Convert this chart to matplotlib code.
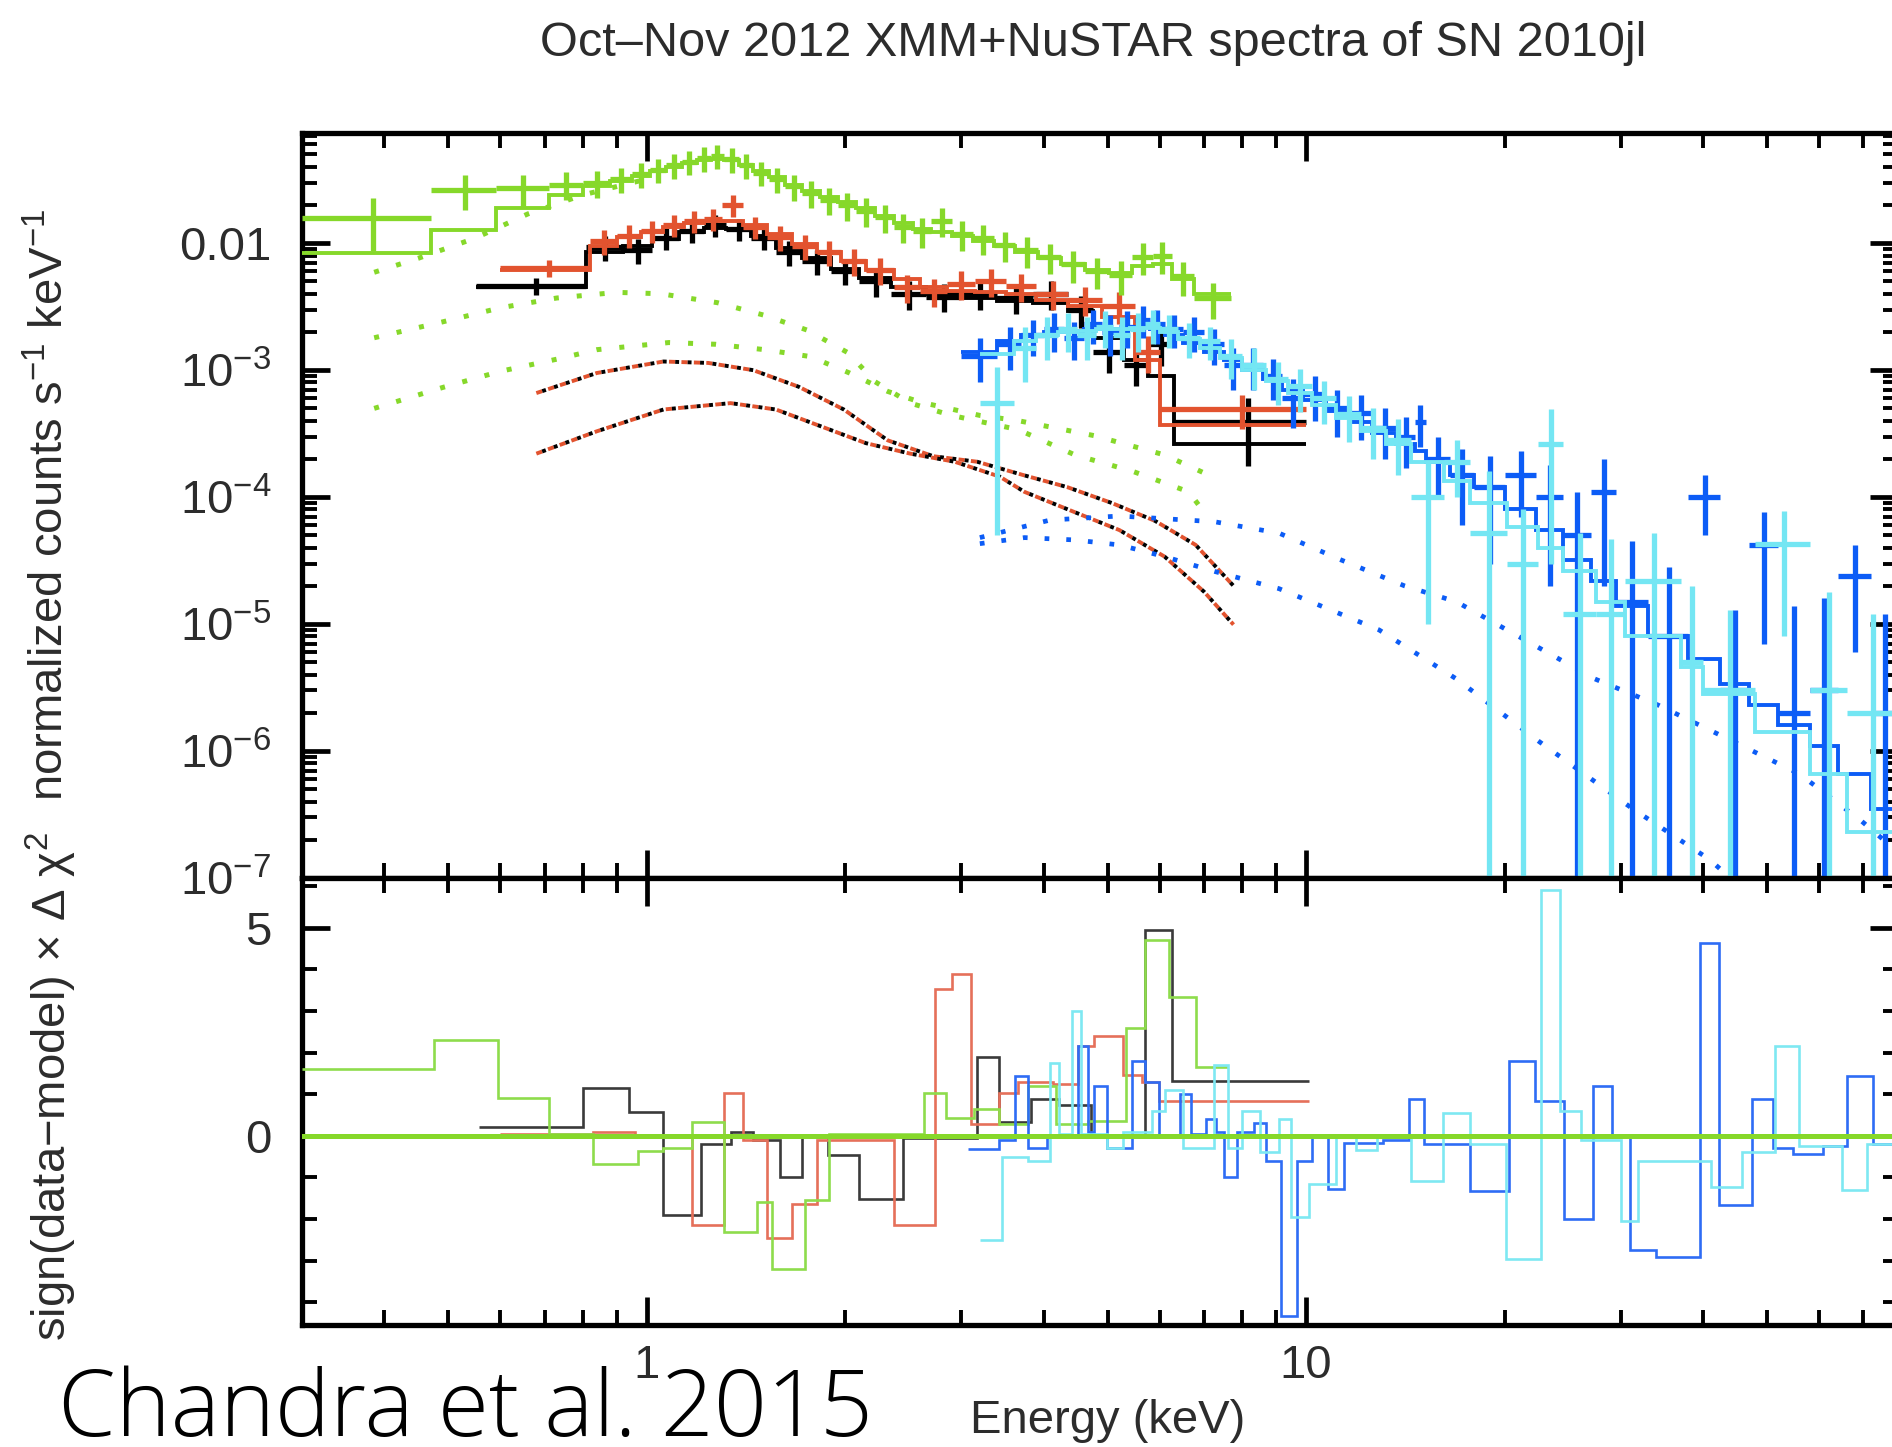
import numpy as np
import matplotlib
matplotlib.use("Agg")
import matplotlib.pyplot as plt
from matplotlib import font_manager as fm
from matplotlib.ticker import FixedLocator, FuncFormatter, MultipleLocator, NullFormatter

# ---------------------------------------------------------------- spectra
# XMM EPIC-pn (green): bin edges [keV], rate, fractional error, folded model
pn_edges = [0.30, 0.47, 0.59, 0.71, 0.80, 0.88, 0.95, 1.01, 1.07, 1.13, 1.19, 1.25,
            1.31, 1.38, 1.45, 1.53, 1.62, 1.72, 1.83, 1.95, 2.08, 2.22, 2.37, 2.53,
            2.70, 2.90, 3.12, 3.36, 3.62, 3.92, 4.25, 4.62, 5.02, 5.45, 5.85, 6.25,
            6.75, 7.70]
pn_rate = [0.0157, 0.0263, 0.027, 0.029, 0.030, 0.032, 0.035, 0.038, 0.041, 0.044,
           0.047, 0.049, 0.046, 0.041, 0.036, 0.032, 0.028, 0.025, 0.022, 0.020,
           0.018, 0.016, 0.0135, 0.0125, 0.0150, 0.0118, 0.0110, 0.0097, 0.0088,
           0.0078, 0.0068, 0.0060, 0.0056, 0.0078, 0.0080, 0.0055, 0.0037]
pn_frac_err = [0.45, 0.30, 0.28, 0.25, 0.24, 0.22, 0.22, 0.22, 0.22, 0.22, 0.22, 0.22,
               0.22, 0.22, 0.22, 0.23, 0.23, 0.24, 0.24, 0.25, 0.25, 0.25, 0.26, 0.26,
               0.26, 0.26, 0.26, 0.27, 0.27, 0.27, 0.28, 0.28, 0.30, 0.28, 0.28, 0.30,
               0.32]
pn_model = [0.0084, 0.0127, 0.019, 0.024, 0.028, 0.031, 0.034, 0.037, 0.040, 0.043,
            0.045, 0.046, 0.045, 0.041, 0.037, 0.033, 0.029, 0.026, 0.023, 0.021,
            0.019, 0.0165, 0.0145, 0.0130, 0.0122, 0.0113, 0.0104, 0.0095, 0.0086,
            0.0077, 0.0068, 0.0061, 0.0058, 0.0066, 0.0068, 0.0052, 0.0040]

# XMM MOS1 (black)
m1_edges = [0.55, 0.81, 0.92, 1.02, 1.12, 1.22, 1.32, 1.44, 1.57, 1.72, 1.90, 2.10,
            2.35, 2.65, 3.00, 3.40, 3.85, 4.35, 4.75, 5.30, 5.75, 6.30, 10.0]
m1_rate = [0.0046, 0.0093, 0.0088, 0.0110, 0.0125, 0.0140, 0.0130, 0.0110, 0.0085,
           0.0072, 0.0060, 0.0050, 0.0040, 0.0038, 0.0040, 0.0037, 0.0040, 0.0030,
           0.0014, 0.0011, 0.0016, 0.00039]
m1_frac_err = [0.15, 0.22, 0.22, 0.2, 0.2, 0.2, 0.2, 0.2, 0.22, 0.22, 0.22, 0.24, 0.25,
               0.25, 0.25, 0.25, 0.25, 0.28, 0.32, 0.32, 0.32, 0.55]
m1_model = [0.0045, 0.0085, 0.0095, 0.0108, 0.0122, 0.0132, 0.0130, 0.0113, 0.0092,
            0.0076, 0.0063, 0.0053, 0.0045, 0.0040, 0.0037, 0.0035, 0.0034, 0.0029,
            0.0018, 0.0012, 0.0009, 0.00026]

# XMM MOS2 (red)
m2_edges = [0.60, 0.82, 0.90, 0.98, 1.06, 1.14, 1.22, 1.30, 1.40, 1.52, 1.66, 1.81,
            1.97, 2.15, 2.37, 2.60, 2.85, 3.15, 3.50, 3.90, 4.35, 4.90, 5.50, 6.00, 10.0]
m2_rate = [0.0064, 0.0104, 0.0115, 0.0125, 0.0140, 0.0150, 0.0155, 0.0200, 0.0135,
           0.0112, 0.0095, 0.0085, 0.0072, 0.0062, 0.0045, 0.0042, 0.0048, 0.0050,
           0.0046, 0.0040, 0.0036, 0.0032, 0.0014, 0.00049]
m2_frac_err = [0.15, 0.22, 0.2, 0.2, 0.2, 0.2, 0.2, 0.2, 0.2, 0.22, 0.22, 0.22, 0.24,
               0.24, 0.25, 0.25, 0.25, 0.25, 0.25, 0.26, 0.26, 0.28, 0.32, 0.3]
m2_model = [0.0062, 0.0095, 0.0112, 0.0122, 0.0135, 0.0145, 0.0150, 0.0150, 0.0138,
            0.0118, 0.0098, 0.0085, 0.0073, 0.0062, 0.0052, 0.0045, 0.0042, 0.0041,
            0.0040, 0.0036, 0.0032, 0.0026, 0.0012, 0.00037]

# NuSTAR FPMA (blue): rate and 1-sigma error
fpma_edges = [3.0, 3.4, 3.7, 4.0, 4.3, 4.6, 4.9, 5.2, 5.5, 5.8, 6.1, 6.5, 7.0, 7.5,
              8.0, 8.6, 9.2, 9.9, 10.7, 11.6, 12.6, 13.7, 14.6, 15.2, 16.5, 18.0,
              20.0, 22.3, 24.5, 27.0, 29.5, 33.0, 38.0, 42.5, 47.0, 52.0, 58.0, 64.0,
              72.0, 79.0]
fpma_rate = [1.3e-3, 1.6e-3, 1.9e-3, 2.1e-3, 1.8e-3, 2.3e-3, 2.0e-3, 2.2e-3, 2.5e-3,
             2.3e-3, 2.1e-3, 2.0e-3, 1.6e-3, 1.1e-3, 1.1e-3, 9.0e-4, 6.0e-4, 6.5e-4,
             5.0e-4, 4.6e-4, 3.5e-4, 3.0e-4, 3.9e-4, 2.0e-4, 1.5e-4, 1.2e-4, 1.5e-4,
             1.0e-4, 5.0e-5, 1.1e-4, 1.5e-5, 8.0e-6, 1.0e-4, 3.0e-6, 4.2e-5, 2.0e-6,
             3.0e-6, 2.4e-5, 2.0e-6]
fpma_err = [5e-4, 6e-4, 6e-4, 7e-4, 6e-4, 7e-4, 7e-4, 7e-4, 7e-4, 7e-4, 6e-4, 6e-4,
            5e-4, 4e-4, 4e-4, 3.2e-4, 2.5e-4, 2.5e-4, 2e-4, 1.8e-4, 1.5e-4, 1.3e-4,
            1.4e-4, 1e-4, 9e-5, 9e-5, 8e-5, 8e-5, 6e-5, 9e-5, 3e-5, 2e-5, 5e-5, 1e-5,
            3.5e-5, 1.2e-5, 1.3e-5, 1.8e-5, 1e-5]
fpma_model = [1.4e-3, 1.7e-3, 1.9e-3, 2.0e-3, 2.05e-3, 2.1e-3, 2.1e-3, 2.1e-3, 2.2e-3,
              2.1e-3, 1.9e-3, 1.65e-3, 1.4e-3, 1.2e-3, 1.0e-3, 8.5e-4, 7.0e-4, 5.8e-4,
              4.8e-4, 3.9e-4, 3.2e-4, 2.6e-4, 2.3e-4, 1.9e-4, 1.5e-4, 1.2e-4, 8.0e-5,
              5.5e-5, 3.2e-5, 2.2e-5, 1.4e-5, 8.0e-6, 5.3e-6, 3.4e-6, 2.3e-6, 1.6e-6,
              1.1e-6, 6.6e-7, 3.5e-7]

# NuSTAR FPMB (cyan)
fpmb_edges = [3.2, 3.6, 3.9, 4.2, 4.5, 4.8, 5.1, 5.4, 5.7, 6.0, 6.4, 6.9, 7.4, 8.0,
              8.7, 9.4, 10.2, 11.1, 12.1, 13.2, 14.4, 16.2, 17.7, 20.2, 22.5, 24.5,
              27.5, 30.5, 37.0, 40.0, 48.0, 58.0, 66.0, 79.0]
fpmb_rate = [5.5e-4, 1.5e-3, 1.9e-3, 2.1e-3, 1.9e-3, 2.2e-3, 1.9e-3, 2.1e-3, 2.3e-3,
             2.1e-3, 1.8e-3, 1.7e-3, 1.3e-3, 1.1e-3, 8.5e-4, 7.5e-4, 6.0e-4, 4.5e-4,
             3.5e-4, 2.8e-4, 1.0e-4, 1.9e-4, 5.2e-5, 3.0e-5, 2.6e-4, 1.2e-5, 1.2e-5,
             2.2e-5, 5.0e-6, 3.0e-6, 4.3e-5, 3.0e-6, 2.0e-6]
fpmb_err = [5e-4, 7e-4, 7e-4, 7e-4, 7e-4, 7e-4, 7e-4, 7e-4, 7e-4, 6e-4, 5.5e-4, 5e-4,
            4.5e-4, 4e-4, 3.2e-4, 2.8e-4, 2.2e-4, 1.8e-4, 1.5e-4, 1.3e-4, 9e-5, 9e-5,
            1.1e-4, 5e-5, 2.3e-4, 4e-5, 3.5e-5, 3e-5, 1.5e-5, 1e-5, 3.5e-5, 1.5e-5,
            1e-5]
fpmb_model = [1.35e-3, 1.7e-3, 1.9e-3, 2.0e-3, 2.05e-3, 2.1e-3, 2.1e-3, 2.15e-3,
              2.15e-3, 2.0e-3, 1.75e-3, 1.5e-3, 1.25e-3, 1.0e-3, 8.2e-4, 6.6e-4,
              5.3e-4, 4.2e-4, 3.3e-4, 2.6e-4, 1.9e-4, 1.35e-4, 9.0e-5, 5.8e-5, 4.0e-5,
              2.6e-5, 1.5e-5, 8.0e-6, 4.6e-6, 2.8e-6, 1.4e-6, 6.6e-7, 2.3e-7]

# ------------------------------------------------------- model components
pn_soft_E = [0.386, 0.45, 0.55, 0.66, 0.80, 1.0]
pn_soft = [5.9e-3, 7.6e-3, 1.1e-2, 1.7e-2, 2.4e-2, 3.2e-2]
pn_cool_E = [0.386, 0.49, 0.60, 0.73, 0.90, 1.05, 1.28, 1.51, 1.75, 2.02, 2.22, 2.51,
             2.90, 3.66, 4.46, 5.45, 6.64, 7.10]
pn_cool = [1.8e-3, 2.4e-3, 3.1e-3, 3.7e-3, 4.1e-3, 4.0e-3, 3.4e-3, 2.7e-3, 2.07e-3,
           1.37e-3, 8.1e-4, 5.5e-4, 4.4e-4, 3.4e-4, 2.15e-4, 1.6e-4, 1.1e-4, 6.9e-5]
pn_hot_E = [0.386, 0.49, 0.60, 0.73, 0.84, 1.08, 1.27, 1.51, 1.77, 2.03, 2.32, 2.60,
            3.20, 3.66, 4.77, 6.10, 7.10]
pn_hot = [5.0e-4, 7.3e-4, 9.8e-4, 1.22e-3, 1.45e-3, 1.65e-3, 1.6e-3, 1.45e-3, 1.28e-3,
          9.5e-4, 6.8e-4, 5.6e-4, 4.4e-4, 4.0e-4, 3.05e-4, 2.15e-4, 1.5e-4]

mos_a_E = [0.68, 0.84, 1.06, 1.24, 1.45, 1.70, 1.99, 2.32, 2.72, 3.17, 3.71, 4.34,
           5.07, 5.90, 6.80, 7.76]
mos_a = [6.6e-4, 9.5e-4, 1.17e-3, 1.14e-3, 1.0e-3, 7.4e-4, 4.9e-4, 2.8e-4, 2.1e-4,
         1.9e-4, 1.5e-4, 1.2e-4, 9.0e-5, 6.5e-5, 4.2e-5, 2.0e-5]
mos_b_E = [0.68, 0.84, 1.06, 1.34, 1.57, 1.84, 2.15, 2.51, 2.93, 3.43, 3.74, 4.46,
           5.21, 6.10, 7.00, 7.76]
mos_b = [2.2e-4, 3.3e-4, 4.9e-4, 5.5e-4, 4.9e-4, 3.6e-4, 2.66e-4, 2.2e-4, 1.9e-4,
         1.45e-4, 1.1e-4, 7.6e-5, 5.5e-5, 3.4e-5, 1.8e-5, 9.9e-6]

nu_a_E = [3.2, 4.09, 5.21, 7.26, 9.1, 11.3, 14.1, 16.9, 27.4, 34.2, 42.9, 56.0, 69.6, 79.0]
nu_a = [4.8e-5, 6.6e-5, 7.1e-5, 6.4e-5, 5.2e-5, 3.2e-5, 2.0e-5, 1.5e-5, 3.7e-6, 2.3e-6,
        1.3e-6, 6.6e-7, 2.8e-7, 1.6e-7]
nu_b_E = [3.2, 3.74, 4.46, 5.21, 6.1, 7.26, 9.1, 12.9, 16.9, 22.5, 31.3, 40.9, 45.0]
nu_b = [4.3e-5, 4.8e-5, 4.6e-5, 4.2e-5, 3.4e-5, 2.6e-5, 1.9e-5, 9.0e-6, 3.7e-6, 1.2e-6,
        3.5e-7, 1.4e-7, 9.0e-8]

# ---------------------------------------------------------------- residuals
pn_res_edges = [0.30, 0.476, 0.594, 0.711, 0.83, 0.97, 1.06, 1.17, 1.31, 1.47, 1.55,
                1.74, 1.89, 2.63, 2.84, 3.14, 3.42, 3.79, 4.17, 4.67, 5.33, 5.70,
                6.20, 6.80, 7.60]
pn_resid = [1.61, 2.30, 0.91, 0.05, -0.67, -0.36, -0.30, 0.33, -2.32, -1.60, -3.20,
            -1.54, 0.05, 1.02, 0.42, 0.65, 0.29, 1.20, 0.29, 0.35, 2.60, 4.70, 3.35,
            1.66]
m1_res_edges = [0.556, 0.80, 0.94, 1.06, 1.21, 1.34, 1.45, 1.59, 1.72, 1.88, 2.10,
                2.45, 3.17, 3.42, 3.83, 4.22, 4.72, 5.70, 6.25, 10.1]
m1_resid = [0.22, 1.15, 0.57, -1.90, -0.20, 0.10, -0.10, -1.00, 0.00, -0.45, -1.53,
            -0.05, 1.89, 0.34, 0.89, 0.75, 0.00, 4.95, 1.32]
m2_res_edges = [0.60, 0.83, 0.96, 1.17, 1.31, 1.40, 1.52, 1.66, 1.81, 2.37, 2.74, 2.90,
                3.10, 3.42, 3.66, 4.13, 4.51, 4.77, 5.28, 5.64, 5.98, 10.1]
m2_resid = [0.05, 0.10, 0.00, -2.14, 1.02, -0.10, -2.45, -1.63, -0.10, -2.14, 3.53,
            3.90, 0.29, 1.02, 1.30, 1.25, 2.16, 2.40, 1.47, 1.30, 0.84]
fpma_res_edges = [3.07, 3.42, 3.62, 3.79, 4.05, 4.51, 4.67, 4.77, 4.99, 5.45, 5.70,
                  5.98, 6.43, 6.70, 7.04, 7.30, 7.50, 7.86, 8.34, 8.70, 9.15, 9.70,
                  10.2, 10.8, 11.4, 13.1, 14.3, 15.1, 16.1, 17.7, 20.3, 22.2, 24.6,
                  27.2, 29.1, 31.0, 33.9, 39.6, 42.3, 47.5, 51.1, 54.7, 60.7, 66.0,
                  72.3, 79.0]
fpma_resid = [-0.31, -0.10, 1.43, -0.30, 0.00, 2.16, 0.10, 1.20, -0.30, 1.80, 1.30,
              0.00, 1.00, 0.05, 0.40, 0.10, -1.00, 0.10, 0.30, -0.60, -4.34, -0.60,
              0.00, -1.27, -0.17, -0.10, 0.89, -0.20, -0.20, -1.32, 1.80, 0.84, -2.00,
              1.20, 0.00, -2.74, -2.92, 4.63, -1.66, 0.88, -0.30, -0.44, -0.25, 1.43,
              -0.20]
fpmb_res_edges = [3.20, 3.46, 3.79, 4.09, 4.22, 4.42, 4.56, 4.99, 5.28, 5.83, 6.10,
                  6.50, 7.26, 7.60, 8.00, 8.50, 9.10, 9.50, 10.1, 11.1, 11.9, 12.8,
                  14.4, 16.1, 17.7, 20.1, 22.7, 24.3, 26.1, 30.0, 31.9, 35.3, 41.1,
                  45.8, 51.5, 55.9, 64.9, 70.8, 79.0]
fpmb_resid = [-2.50, -0.50, -0.60, 1.75, 0.05, 3.00, 0.05, -0.30, 0.10, 0.60, 1.10,
              -0.30, 1.70, -0.30, 0.60, -0.40, 0.40, -1.96, -1.15, 0.00, -0.35, 0.00,
              -1.09, 0.56, -0.20, -2.96, 5.90, 0.60, -0.10, -2.05, -0.60, -0.60, -1.24,
              -0.38, 2.16, -0.25, -1.30, -0.20]

x_major = [1, 10]
x_major_labels = ["1", "10"]
y_major = [1e-7, 1e-6, 1e-5, 1e-4, 1e-3, 1e-2]

# ------------------------------------------------------------------ style
BLACK, RED, GREEN = "#000000", "#e2532f", "#86d82a"
BLUE, CYAN = "#0c5cf6", "#74e6f3"
TXT = "#2c2c2c"

plt.rcParams.update({
    "font.family": ["Liberation Sans", "DejaVu Sans"],
    "mathtext.fontset": "custom",
    "mathtext.rm": "Liberation Sans",
    "mathtext.it": "Liberation Sans:italic",
    "mathtext.bf": "Liberation Sans:bold",
    "mathtext.default": "rm",
})


def light_font():
    names = ["Open Sans", "Noto Sans", "Roboto", "Inter", "Lato"]
    wmap = {"thin": 100, "extra light": 200, "ultralight": 200, "light": 300}
    for name in names:
        for f in fm.fontManager.ttflist:
            w = f.weight
            if isinstance(w, str):
                w = wmap.get(w.lower(), 400)
            stretch = str(f.stretch).lower()
            if (f.name == name and f.style == "normal" and 250 <= w <= 320
                    and stretch in ("normal", "500")
                    and "condensed" not in f.fname.lower()):
                return fm.FontProperties(fname=f.fname)
    return fm.FontProperties(family="Liberation Sans")


def crosses(ax, edges, rate, err, color, z):
    e = np.asarray(edges, float)
    lo, hi = e[:-1], e[1:]
    mid = 0.5 * (lo + hi)
    r = np.asarray(rate, float)
    s = np.asarray(err, float)
    bottom = np.where(r - s > 0, r - s, 1e-12)
    ax.hlines(r, lo, hi, colors=color, lw=3.8, zorder=z)
    ax.vlines(mid, bottom, r + s, colors=color, lw=3.8, zorder=z)


W, H = 1892, 1447
fig = plt.figure(figsize=(W / 100, H / 100), dpi=100)
L, R = 302, 1898
ax1 = fig.add_axes([L / W, 1 - 878 / H, (R - L) / W, (878 - 133) / H])
ax2 = fig.add_axes([L / W, 1 - 1325 / H, (R - L) / W, (1325 - 878) / H], sharex=ax1)

# model components
dot = (0, (1.0, 3.6))
ax1.plot(pn_soft_E, pn_soft, color=GREEN, lw=3.6, ls=dot, zorder=2)
ax1.plot(pn_cool_E, pn_cool, color=GREEN, lw=3.6, ls=dot, zorder=2)
ax1.plot(pn_hot_E, pn_hot, color=GREEN, lw=3.6, ls=dot, zorder=2)
for cx, cy in ((mos_a_E, mos_a), (mos_b_E, mos_b)):
    ax1.plot(cx, cy, color=RED, lw=2.8, ls=(0, (1.6, 1.6)), zorder=2)
    ax1.plot(cx, cy, color=BLACK, lw=2.8, ls=(1.6, (1.0, 2.2)), zorder=2)
ax1.plot(nu_a_E, nu_a, color=BLUE, lw=3.4, ls=dot, zorder=2)
ax1.plot(nu_b_E, nu_b, color=BLUE, lw=3.4, ls=dot, zorder=2)

# data and folded models
crosses(ax1, m1_edges, m1_rate, np.multiply(m1_rate, m1_frac_err), BLACK, 4)
ax1.stairs(m1_model, m1_edges, baseline=None, color=BLACK, lw=2.8, zorder=4)
crosses(ax1, m2_edges, m2_rate, np.multiply(m2_rate, m2_frac_err), RED, 5)
ax1.stairs(m2_model, m2_edges, baseline=None, color=RED, lw=2.8, zorder=5)
crosses(ax1, pn_edges, pn_rate, np.multiply(pn_rate, pn_frac_err), GREEN, 6)
ax1.stairs(pn_model, pn_edges, baseline=None, color=GREEN, lw=2.8, zorder=6)
crosses(ax1, fpma_edges, fpma_rate, fpma_err, BLUE, 7)
ax1.stairs(fpma_model, fpma_edges, baseline=None, color=BLUE, lw=2.8, zorder=7)
crosses(ax1, fpmb_edges, fpmb_rate, fpmb_err, CYAN, 8)
ax1.stairs(fpmb_model, fpmb_edges, baseline=None, color=CYAN, lw=2.8, zorder=8)

# residuals
for edges, vals, col in ((m1_res_edges, m1_resid, "#3a3a3a"),
                         (m2_res_edges, m2_resid, "#e5705a"),
                         (pn_res_edges, pn_resid, "#8edc4c"),
                         (fpma_res_edges, fpma_resid, "#2e6cf5"),
                         (fpmb_res_edges, fpmb_resid, "#7ee8f2")):
    ax2.stairs(vals, edges, baseline=None, color=col, lw=1.9, zorder=3)
ax2.axhline(0, color=GREEN, lw=3.6, zorder=10)

# axes
ax1.set_xscale("log")
ax1.set_yscale("log")
ax1.set_xlim(0.3, 79)
ax1.set_ylim(1e-7, 0.0738)
ax2.set_ylim(-4.55, 6.2)

minor_x = [v * d for d in (0.1, 1, 10) for v in range(2, 10)]
minor_x = [m for m in minor_x if 0.3 <= m <= 79]
ax2.xaxis.set_major_locator(FixedLocator(x_major))
ax2.xaxis.set_major_formatter(FuncFormatter(
    lambda v, p: x_major_labels[x_major.index(v)] if v in x_major else ""))
ax2.xaxis.set_minor_locator(FixedLocator(minor_x))
ax2.xaxis.set_minor_formatter(NullFormatter())

ax1.yaxis.set_major_locator(FixedLocator(y_major))
ax1.yaxis.set_major_formatter(FuncFormatter(
    lambda v, p: "0.01" if abs(np.log10(v) + 2) < 0.01
    else r"$10^{%d}$" % int(round(np.log10(v)))))
ax1.yaxis.set_minor_locator(FixedLocator(
    [m * 10.0 ** e for e in range(-7, -1) for m in range(2, 10)]))
ax1.yaxis.set_minor_formatter(NullFormatter())

ax2.yaxis.set_major_locator(FixedLocator([0, 5]))
ax2.yaxis.set_minor_locator(MultipleLocator(1))

for ax in (ax1, ax2):
    ax.tick_params(which="both", direction="in", top=True, right=True,
                   labelsize=34, labelcolor=TXT)
    ax.tick_params(which="major", length=20, width=3.4)
    ax.tick_params(which="minor", length=11, width=2.8)
    ax.tick_params(axis="y", pad=22)
    ax.tick_params(axis="x", pad=14)
    for s in ax.spines.values():
        s.set_linewidth(3.8)
ax1.tick_params(labelbottom=False)

# text
fig.text(1093 / W, 1 - 43 / H, "Oct–Nov 2012 XMM+NuSTAR spectra of SN 2010jl",
         ha="center", va="center", fontsize=35, color=TXT)
fig.text(51 / W, 1 - 505 / H, r"normalized counts s$^{-1}$ keV$^{-1}$",
         rotation=90, ha="center", va="center", fontsize=34, color=TXT)
fig.text(51 / W, 1 - 1087 / H, r"sign(data−model) × Δ χ$^{2}$",
         rotation=90, ha="center", va="center", fontsize=34, color=TXT)
fig.text(1108 / W, 1 - 1421 / H, "Energy (keV)", ha="center", va="center",
         fontsize=34, color=TXT)

# credit line, sized so that it spans about 840 px
credit = fig.text(58 / W, 1 - 1436 / H, "Chandra et al. 2015", ha="left",
                  va="baseline", color="black", fontproperties=light_font())
credit.set_fontsize(63)
renderer = fig.canvas.get_renderer()
width_px = credit.get_window_extent(renderer).width
if width_px > 0:
    credit.set_fontsize(float(np.clip(63 * 840.0 / width_px, 58, 67)))

fig.savefig("out.png", dpi=100, facecolor="white")
